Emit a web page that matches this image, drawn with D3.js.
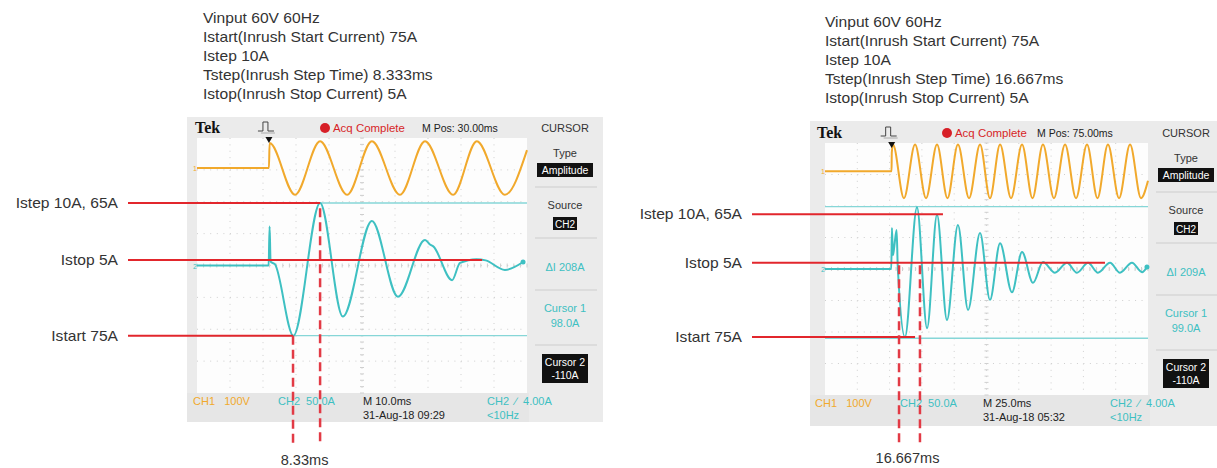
<!DOCTYPE html>
<html><head><meta charset="utf-8">
<script src="https://cdn.jsdelivr.net/npm/d3@7"></script>
<style>html,body{margin:0;padding:0;background:#fff;}svg{display:block;}text{white-space:pre;}</style>
</head><body><svg id="c" width="1217" height="468"></svg>
<script>
// ---------------- DATA ----------------
const leftInfo = ["Vinput 60V 60Hz", "Istart(Inrush Start Current) 75A", "Istep 10A", "Tstep(Inrush Step Time) 8.333ms", "Istop(Inrush Stop Current) 5A"];
const rightInfo = ["Vinput 60V 60Hz", "Istart(Inrush Start Current) 75A", "Istep 10A", "Tstep(Inrush Step Time) 16.667ms", "Istop(Inrush Stop Current) 5A"];
const annotLabels = ["Istep 10A, 65A", "Istop 5A", "Istart 75A"];

// annotation levels (A) and where the red lines end (ms)
const leftAnnotLevels = [98, 8.6, -110];
const leftAnnotEnds = [37.3, 86.4, 29.1];
const rightAnnotLevels = [87, 10, -108];
const rightAnnotEnds = [91.3, 216.7, 69.7];

// step-time markers (ms) and the level (A) they start from
const leftStepTimes = [29.1, 37.3];
const leftStepFrom = [-110, 90];
const rightStepTimes = [57.3, 73.5];
const rightStepFrom = [6, 6];
const leftStepLabel = "8.33ms";
const rightStepLabel = "16.667ms";

// CH1 (V) waveforms: [ms, V]
const leftCh1 = [[0,0],[21.8,0],[22.0,78],[29.7,-84],[37.3,84],[45.5,-84],[53.0,84],[61.5,-84],[69.1,84],[77.6,-84],[84.8,84],[93.3,-84],[100,56]];
const rightCh1 = [[0,0],[51.5,0],[51.7,60],[52.6,85],[61.1,-85],[69.7,85],[78.2,-85],[86.7,85],[94.8,-85],[102.9,85],[111.5,-85],[120.0,85],[127.7,-85],[135.5,85],[144.0,-85],[152.5,85],[160.6,-85],[168.7,85],[177.2,-85],[185.8,85],[194.3,-85],[202.8,85],[210.9,-85],[219.0,85],[227.6,-85],[236.1,85],[244.6,-85],[250,-30]];

// CH2 (A) waveforms: [ms, A]
const leftCh2 = [[0,0],[21.7,0],[22.0,61],[22.3,6],[23.6,2],[29.2,-110],[37.3,98],[44.2,-80],[53.0,70],[60.9,-49],[69.1,40],[70.6,33],[71.6,30],[77.3,-23],[79.7,4],[84.7,10],[87.5,8],[93.3,-7],[98.8,5.5]];
const rightCh2 = [[0,0],[51.3,0],[51.8,65],[52.6,22],[53.6,35],[55.4,62],[56.3,5],[61.9,-108],[71.2,98],[79.0,-94],[86.7,86],[94.4,-81],[102.9,70],[110.7,-65],[120.0,57],[127.7,-49],[135.5,41],[144.7,-37],[152.5,27],[161.0,-22],[168.7,11],[178.0,-6],[187.3,10],[195.0,-6],[203.6,10],[211.3,-6],[220.6,10],[228.3,-6],[237.6,10],[245.4,-5],[249.2,3]];

// cursor values (A)
const leftCursors = [98, -110];
const rightCursors = [99, -110];

// scope readouts
const leftReadouts = ["M Pos: 30.00ms", "CH1   100V", "CH2  50.0A", "M 10.0ms", "31-Aug-18 09:29", "CH2  \u2215  4.00A", "<10Hz"];
const rightReadouts = ["M Pos: 75.00ms", "CH1   100V", "CH2  50.0A", "M 25.0ms", "31-Aug-18 05:32", "CH2  \u2215  4.00A", "<10Hz"];
const leftCursorReadouts = ["\u0394I 208A", "98.0A", "-110A"];
const rightCursorReadouts = ["\u0394I 209A", "99.0A", "-110A"];
const menuLabels = ["CURSOR", "Type", "Amplitude", "Source", "CH2", "Cursor 1", "Cursor 2", "Tek", "Acq Complete"];

// ---------------- DRAW ----------------
const svg = d3.select('#c');
const SANS = "'Liberation Sans', Arial, sans-serif";
const CYAN = '#3ec0c2', ORANGE = '#f1a92c', RED = '#e2262c';

function T(g, x, y, s, o = {}) {
  const t = g.append('text').attr('x', x).attr('y', y).text(s)
    .attr('font-family', o.ff || SANS)
    .attr('font-size', o.fs || 11)
    .attr('fill', o.fill || '#222')
    .attr('text-anchor', o.anchor || 'start');
  if (o.fw) t.attr('font-weight', o.fw);
  if (o.sx) t.attr('transform', `translate(${x},${y}) scale(${o.sx},1) translate(${-x},${-y})`);
  return t;
}

function drawScope(s) {
  const g = svg.append('g');
  const L = s.layout;
  const x = d3.scaleLinear().domain([0, 10 * s.timeDiv]).range([L.x0, L.x1]);
  const yd = d3.scaleLinear().domain([-4, 4]).range([L.y1, L.y0]);
  const y1 = v => yd(v / s.ch1Scale + s.ch1Off);
  const y2 = a => yd(a / s.ch2Scale + s.ch2Off);

  // frame
  g.append('rect').attr('x', L.fx).attr('y', L.fy).attr('width', L.fw).attr('height', L.fh).attr('fill', '#ebebeb');
  g.append('rect').attr('x', L.fx).attr('y', L.y1).attr('width', L.x1 - L.fx + 2).attr('height', L.fy + L.fh - L.y1).attr('fill', '#e6e6e6');
  g.append('rect').attr('x', L.x0).attr('y', L.y0).attr('width', L.x1 - L.x0).attr('height', L.y1 - L.y0).attr('fill', '#fdfdfd');

  // grid
  const xt = d3.range(0, 10 * s.timeDiv + 0.001, s.timeDiv);
  const yt = d3.range(-4, 4.001, 1);
  const dx = (L.x1 - L.x0) / 10, dy = (L.y1 - L.y0) / 8;
  const grid = g.append('g').attr('stroke', '#cfcfcf').attr('stroke-width', 1);
  xt.slice(1, -1).forEach(t => grid.append('line').attr('x1', x(t)).attr('x2', x(t)).attr('y1', L.y0).attr('y2', L.y1)
    .attr('stroke-dasharray', `1,${(dy / 5 - 1).toFixed(2)}`));
  yt.slice(1, -1).forEach(v => grid.append('line').attr('x1', L.x0).attr('x2', L.x1).attr('y1', yd(v)).attr('y2', yd(v))
    .attr('stroke-dasharray', `1,${(dx / 5 - 1).toFixed(2)}`));
  const xc = x(5 * s.timeDiv), yc = yd(0);
  d3.range(0, 50.001, 1).forEach(i => {
    const xx = L.x0 + i * dx / 5;
    grid.append('line').attr('x1', xx).attr('x2', xx).attr('y1', yc - 2).attr('y2', yc + 2);
  });
  d3.range(0, 40.001, 1).forEach(i => {
    const yy = L.y0 + i * dy / 5;
    grid.append('line').attr('x1', xc - 2).attr('x2', xc + 2).attr('y1', yy).attr('y2', yy);
  });

  // cursors
  s.cursors.forEach(c => g.append('line').attr('x1', L.x0).attr('x2', L.x1).attr('y1', y2(c)).attr('y2', y2(c))
    .attr('stroke', '#86d6d7').attr('stroke-width', 1.4));

  // waveforms
  const line1 = d3.line().x(d => x(d[0])).y(d => y1(d[1])).curve(d3.curveMonotoneX);
  const line2 = d3.line().x(d => x(d[0])).y(d => y2(d[1])).curve(d3.curveMonotoneX);
  g.append('path').attr('d', line1(s.ch1)).attr('fill', 'none').attr('stroke', ORANGE).attr('stroke-width', 2).attr('stroke-linejoin', 'round');
  g.append('path').attr('d', line2(s.ch2)).attr('fill', 'none').attr('stroke', CYAN).attr('stroke-width', 2).attr('stroke-linejoin', 'round');
  const last = s.ch2[s.ch2.length - 1];
  g.append('circle').attr('cx', x(last[0])).attr('cy', y2(last[1])).attr('r', 2.5).attr('fill', CYAN);

  // channel markers
  T(g, L.x0 - 4, y1(0) + 3, '1', { fs: 7, fill: ORANGE });
  T(g, L.x0 - 4, y2(0) + 3, '2', { fs: 7, fill: CYAN });

  // top bar
  const tb = L.y0 - 6;
  T(g, L.tekX, tb + 1, menuLabels[7], { ff: "'Liberation Serif', 'DejaVu Serif', serif", fs: 16, fw: 'bold', fill: '#111' });
  const tx = x(s.trigT);
  g.append('path').attr('d', `M${tx - 11},${tb - 1} h5 v-9 h5 v9 h6`).attr('fill', 'none').attr('stroke', '#444').attr('stroke-width', 1);
  g.append('path').attr('d', `M${tx - 8},${tb + 1} h14`).attr('fill', 'none').attr('stroke', '#aaa').attr('stroke-width', 1);
  g.append('path').attr('d', `M${tx - 3.5},${L.y0 - 1} L${tx + 3.5},${L.y0 - 1} L${tx},${L.y0 + 5} Z`).attr('fill', '#111');
  g.append('circle').attr('cx', L.dotX).attr('cy', tb - 4).attr('r', 5).attr('fill', '#d71f27');
  T(g, L.dotX + 8, tb, menuLabels[8], { fs: 11, fill: '#d71f27', sx: 1.04 });
  T(g, L.mposX, tb, s.readouts[0], { fs: 10.5, fill: '#222' });

  // right menu panel
  const cx = L.x1 + 38;
  T(g, cx, tb, menuLabels[0], { fs: 11, anchor: 'middle', fill: '#333' });
  [49, 100, 152, 207].forEach(o => g.append('line').attr('x1', L.x1 + 8).attr('x2', L.x1 + 70)
    .attr('y1', L.y0 + o).attr('y2', L.y0 + o).attr('stroke', '#cdcdcd').attr('stroke-width', 1));
  T(g, cx, L.y0 + 19, menuLabels[1], { fs: 11, anchor: 'middle', fill: '#333' });
  g.append('rect').attr('x', cx - 28).attr('y', L.y0 + 25).attr('width', 56).attr('height', 14).attr('fill', '#111');
  T(g, cx, L.y0 + 36, menuLabels[2], { fs: 10.5, anchor: 'middle', fill: '#fff' });
  T(g, cx, L.y0 + 71, menuLabels[3], { fs: 11, anchor: 'middle', fill: '#333' });
  g.append('rect').attr('x', cx - 12).attr('y', L.y0 + 79).attr('width', 24).attr('height', 13).attr('fill', '#111');
  T(g, cx, L.y0 + 89.5, menuLabels[4], { fs: 10, anchor: 'middle', fill: '#fff' });
  T(g, cx, L.y0 + 133, s.cursorReadouts[0], { fs: 11, anchor: 'middle', fill: CYAN });
  T(g, cx, L.y0 + 174, menuLabels[5], { fs: 11, anchor: 'middle', fill: CYAN });
  T(g, cx, L.y0 + 189, s.cursorReadouts[1], { fs: 11, anchor: 'middle', fill: CYAN });
  g.append('rect').attr('x', cx - 23).attr('y', L.y0 + 216).attr('width', 46).attr('height', 29).attr('fill', '#111');
  T(g, cx, L.y0 + 228, menuLabels[6], { fs: 10.5, anchor: 'middle', fill: '#fff' });
  T(g, cx, L.y0 + 241, s.cursorReadouts[2], { fs: 10.5, anchor: 'middle', fill: '#fff' });

  // bottom status
  const b1 = L.y1 + 12, b2 = L.y1 + 26;
  T(g, L.bx[0], b1, s.readouts[1], { fs: 11, fill: ORANGE });
  T(g, L.bx[1], b1, s.readouts[2], { fs: 11, fill: CYAN });
  T(g, L.bx[2], b1, s.readouts[3], { fs: 11, fill: '#222' });
  T(g, L.bx[2], b2, s.readouts[4], { fs: 11, fill: '#222' });
  T(g, L.bx[3], b1, s.readouts[5], { fs: 11, fill: CYAN });
  T(g, L.bx[3], b2, s.readouts[6], { fs: 11, fill: CYAN });

  return { x, y2 };
}

function annotate(sc, o) {
  const g = svg.append('g');
  o.levels.forEach((lv, i) => {
    const yy = sc.y2(lv);
    g.append('line').attr('x1', o.labelX + 10).attr('x2', sc.x(o.ends[i])).attr('y1', yy).attr('y2', yy)
      .attr('stroke', RED).attr('stroke-width', 2);
    T(g, o.labelX, yy + 5, annotLabels[i], { fs: 15, anchor: 'end', fill: '#333', sx: 1.04 });
  });
  o.steps.forEach((t, i) => {
    g.append('line').attr('x1', sc.x(t)).attr('x2', sc.x(t)).attr('y1', sc.y2(o.from[i])).attr('y2', 445)
      .attr('stroke', '#e23a45').attr('stroke-width', 2.5).attr('stroke-dasharray', '9,5');
  });
  const mx = (sc.x(o.steps[0]) + sc.x(o.steps[1])) / 2;
  T(g, mx - 2, o.stepLabelY, o.stepLabel, { fs: 14, anchor: 'middle', fill: '#333', sx: 1.04 });
  o.info.forEach((s, i) => T(g, o.infoX, o.infoY + i * 18.8, s, { fs: 15, fill: '#333', sx: 1.04 }));
}

const left = drawScope({
  layout: { fx: 187, fy: 117, fw: 416, fh: 305, x0: 197, x1: 527, y0: 138, y1: 393, tekX: 195, dotX: 325, mposX: 422, bx: [193, 278, 363, 487] },
  timeDiv: 10, ch1Scale: 100, ch1Off: 3.06, ch2Scale: 50, ch2Off: 0, trigT: 21.8,
  ch1: leftCh1, ch2: leftCh2, cursors: leftCursors, readouts: leftReadouts, cursorReadouts: leftCursorReadouts
});
const right = drawScope({
  layout: { fx: 810, fy: 121, fw: 407, fh: 305, x0: 825, x1: 1148, y0: 143, y1: 395, tekX: 817, dotX: 947, mposX: 1037, bx: [815, 900, 983, 1110] },
  timeDiv: 25, ch1Scale: 100, ch1Off: 3.1, ch2Scale: 50, ch2Off: 0, trigT: 51.6,
  ch1: rightCh1, ch2: rightCh2, cursors: rightCursors, readouts: rightReadouts, cursorReadouts: rightCursorReadouts
});

annotate(left, { labelX: 118, levels: leftAnnotLevels, ends: leftAnnotEnds, steps: leftStepTimes, from: leftStepFrom,
  stepLabel: leftStepLabel, stepLabelY: 465, info: leftInfo, infoX: 203, infoY: 23.5 });
annotate(right, { labelX: 742, levels: rightAnnotLevels, ends: rightAnnotEnds, steps: rightStepTimes, from: rightStepFrom,
  stepLabel: rightStepLabel, stepLabelY: 463, info: rightInfo, infoX: 825, infoY: 27.5 });
</script></body></html>
